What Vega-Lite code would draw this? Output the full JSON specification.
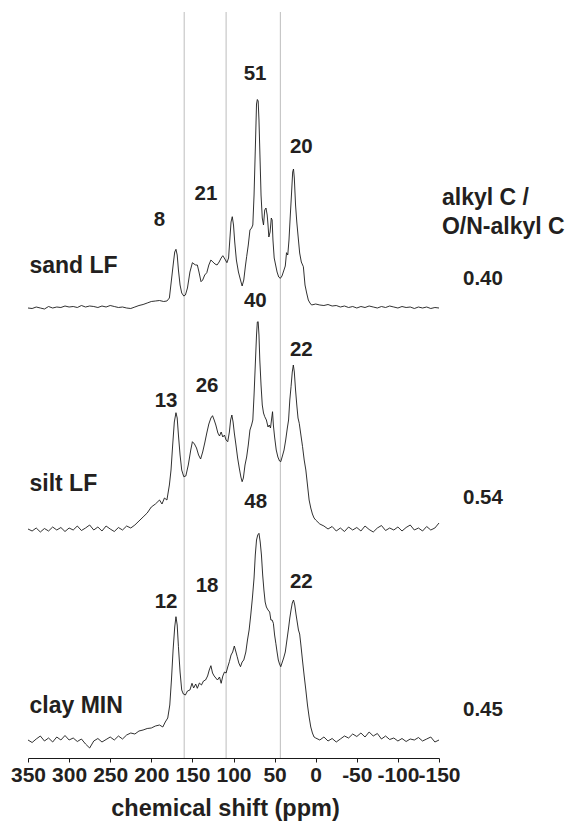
{
  "$schema": "https://vega.github.io/schema/vega-lite/v6.json",
  "autosize": {"type": "none"},
  "width": 411,
  "height": 746,
  "padding": {"left": 28, "top": 12, "right": 129, "bottom": 64},
  "config": {"view": {"stroke": null}, "font": "Liberation Sans"},
  "datasets": {
    "spectra": [
      {"s":"sand","x":350,"y":449},{"s":"sand","x":345,"y":448.5},{"s":"sand","x":340,"y":450},{"s":"sand","x":335,"y":449},{"s":"sand","x":330,"y":448},{"s":"sand","x":325,"y":450.5},{"s":"sand","x":320,"y":449},{"s":"sand","x":315,"y":450},{"s":"sand","x":310,"y":449.5},{"s":"sand","x":305,"y":451},{"s":"sand","x":300,"y":450},{"s":"sand","x":295,"y":450.5},{"s":"sand","x":290,"y":449.5},{"s":"sand","x":285,"y":451.5},{"s":"sand","x":280,"y":450},{"s":"sand","x":275,"y":451},{"s":"sand","x":270,"y":450.5},{"s":"sand","x":265,"y":449.5},{"s":"sand","x":260,"y":451},{"s":"sand","x":255,"y":450},{"s":"sand","x":250,"y":451.5},{"s":"sand","x":245,"y":450.5},{"s":"sand","x":240,"y":449.5},{"s":"sand","x":235,"y":450},{"s":"sand","x":230,"y":449},{"s":"sand","x":225,"y":448.5},{"s":"sand","x":220,"y":450},{"s":"sand","x":215,"y":451.5},{"s":"sand","x":210,"y":452.5},{"s":"sand","x":205,"y":454},{"s":"sand","x":200,"y":455.5},{"s":"sand","x":195,"y":456},{"s":"sand","x":190,"y":456.5},{"s":"sand","x":185,"y":455.5},{"s":"sand","x":181,"y":456},
      {"s":"sand","x":178,"y":459},{"s":"sand","x":175.5,"y":477},{"s":"sand","x":173,"y":495},{"s":"sand","x":171.5,"y":505},{"s":"sand","x":170,"y":507.7},{"s":"sand","x":168.5,"y":502},{"s":"sand","x":167,"y":487},{"s":"sand","x":165,"y":472},{"s":"sand","x":163,"y":464},{"s":"sand","x":160.5,"y":461},{"s":"sand","x":158.5,"y":462},{"s":"sand","x":156,"y":469},{"s":"sand","x":153,"y":485},{"s":"sand","x":150,"y":494.3},{"s":"sand","x":148,"y":493},{"s":"sand","x":146,"y":492},{"s":"sand","x":144,"y":492},{"s":"sand","x":142,"y":485},{"s":"sand","x":139.5,"y":475.3},{"s":"sand","x":137.5,"y":477},{"s":"sand","x":135,"y":482},{"s":"sand","x":132.5,"y":484.3},{"s":"sand","x":130,"y":492},{"s":"sand","x":127.5,"y":497},{"s":"sand","x":125,"y":495},{"s":"sand","x":122.5,"y":493},{"s":"sand","x":120,"y":492},{"s":"sand","x":117.5,"y":495},{"s":"sand","x":115,"y":499},{"s":"sand","x":113,"y":501.3},{"s":"sand","x":110.5,"y":498},{"s":"sand","x":108,"y":494.3},{"s":"sand","x":106,"y":499},{"s":"sand","x":104.5,"y":517},{"s":"sand","x":103,"y":535},{"s":"sand","x":101.5,"y":540.3},{"s":"sand","x":100,"y":532},{"s":"sand","x":98.5,"y":515},{"s":"sand","x":96.5,"y":497},{"s":"sand","x":94,"y":485},{"s":"sand","x":91.5,"y":477},{"s":"sand","x":89.5,"y":471},{"s":"sand","x":87.5,"y":477},{"s":"sand","x":85.5,"y":491},{"s":"sand","x":84,"y":500.3},{"s":"sand","x":82,"y":512},{"s":"sand","x":80,"y":527},{"s":"sand","x":78,"y":529},{"s":"sand","x":76.5,"y":532},{"s":"sand","x":75,"y":562},{"s":"sand","x":73.5,"y":607},{"s":"sand","x":72,"y":653},{"s":"sand","x":71,"y":657.5},{"s":"sand","x":70,"y":656},{"s":"sand","x":69,"y":637},{"s":"sand","x":68,"y":607},{"s":"sand","x":66.5,"y":562},{"s":"sand","x":65,"y":539},{"s":"sand","x":63.5,"y":532},{"s":"sand","x":62,"y":547},{"s":"sand","x":60.5,"y":549},{"s":"sand","x":59,"y":542},{"s":"sand","x":58,"y":532},{"s":"sand","x":57,"y":520},{"s":"sand","x":55.5,"y":525},{"s":"sand","x":54,"y":539},{"s":"sand","x":53,"y":537},{"s":"sand","x":52,"y":517},{"s":"sand","x":50.5,"y":499},{"s":"sand","x":49,"y":493},{"s":"sand","x":47,"y":485},{"s":"sand","x":45,"y":480},{"s":"sand","x":43,"y":478.7},{"s":"sand","x":41,"y":481},{"s":"sand","x":39,"y":486},{"s":"sand","x":37,"y":491},{"s":"sand","x":35.5,"y":504.3},{"s":"sand","x":34,"y":502},{"s":"sand","x":32.5,"y":517},{"s":"sand","x":31,"y":540},{"s":"sand","x":29.5,"y":562},{"s":"sand","x":28,"y":585},{"s":"sand","x":27,"y":588},{"s":"sand","x":26,"y":579},{"s":"sand","x":24.5,"y":552},{"s":"sand","x":23,"y":535},{"s":"sand","x":21,"y":517},{"s":"sand","x":19.5,"y":504},{"s":"sand","x":17.5,"y":495},{"s":"sand","x":15,"y":490.3},{"s":"sand","x":13,"y":472},{"s":"sand","x":11,"y":464},{"s":"sand","x":9,"y":457},{"s":"sand","x":7,"y":454},{"s":"sand","x":5,"y":452},
      {"s":"sand","x":0,"y":453},{"s":"sand","x":-5,"y":452},{"s":"sand","x":-10,"y":451.5},{"s":"sand","x":-15,"y":452.5},{"s":"sand","x":-20,"y":451},{"s":"sand","x":-25,"y":451.5},{"s":"sand","x":-30,"y":450},{"s":"sand","x":-35,"y":451},{"s":"sand","x":-40,"y":449.5},{"s":"sand","x":-45,"y":450.5},{"s":"sand","x":-50,"y":449},{"s":"sand","x":-55,"y":450.5},{"s":"sand","x":-60,"y":449.5},{"s":"sand","x":-65,"y":451},{"s":"sand","x":-70,"y":450},{"s":"sand","x":-75,"y":449},{"s":"sand","x":-80,"y":450.5},{"s":"sand","x":-85,"y":449.5},{"s":"sand","x":-90,"y":451},{"s":"sand","x":-95,"y":450},{"s":"sand","x":-100,"y":449},{"s":"sand","x":-105,"y":450.5},{"s":"sand","x":-110,"y":449.5},{"s":"sand","x":-115,"y":450},{"s":"sand","x":-120,"y":448.5},{"s":"sand","x":-125,"y":450},{"s":"sand","x":-130,"y":449},{"s":"sand","x":-135,"y":450},{"s":"sand","x":-140,"y":448.5},{"s":"sand","x":-145,"y":449.5},{"s":"sand","x":-150,"y":449},

      {"s":"silt","x":350,"y":228},{"s":"silt","x":345,"y":226},{"s":"silt","x":340,"y":229},{"s":"silt","x":335,"y":225},{"s":"silt","x":330,"y":228.5},{"s":"silt","x":325,"y":226},{"s":"silt","x":320,"y":230},{"s":"silt","x":315,"y":227},{"s":"silt","x":310,"y":229.5},{"s":"silt","x":305,"y":225.5},{"s":"silt","x":300,"y":229},{"s":"silt","x":295,"y":227},{"s":"silt","x":290,"y":231},{"s":"silt","x":285,"y":226.5},{"s":"silt","x":280,"y":229},{"s":"silt","x":275,"y":232},{"s":"silt","x":270,"y":227},{"s":"silt","x":265,"y":230},{"s":"silt","x":260,"y":226},{"s":"silt","x":255,"y":231},{"s":"silt","x":250,"y":228},{"s":"silt","x":245,"y":225.5},{"s":"silt","x":240,"y":229.5},{"s":"silt","x":235,"y":227},{"s":"silt","x":230,"y":231},{"s":"silt","x":225,"y":229},{"s":"silt","x":220,"y":232},{"s":"silt","x":215,"y":236},{"s":"silt","x":210,"y":240},{"s":"silt","x":205,"y":244},{"s":"silt","x":200,"y":250},{"s":"silt","x":195,"y":253},{"s":"silt","x":190,"y":257},{"s":"silt","x":187,"y":253},{"s":"silt","x":184,"y":259},{"s":"silt","x":181,"y":257},
      {"s":"silt","x":178,"y":272},{"s":"silt","x":176,"y":287},{"s":"silt","x":174,"y":312},{"s":"silt","x":172,"y":335},{"s":"silt","x":170,"y":344.3},{"s":"silt","x":168.5,"y":339},{"s":"silt","x":167,"y":322},{"s":"silt","x":165,"y":302},{"s":"silt","x":163,"y":287},{"s":"silt","x":160.5,"y":280.3},{"s":"silt","x":158,"y":281},{"s":"silt","x":155,"y":292},{"s":"silt","x":152,"y":307},{"s":"silt","x":150,"y":315.3},{"s":"silt","x":147.5,"y":313},{"s":"silt","x":145,"y":309},{"s":"silt","x":142.5,"y":302},{"s":"silt","x":140,"y":298},{"s":"silt","x":137.5,"y":305},{"s":"silt","x":135,"y":314},{"s":"silt","x":132.5,"y":324},{"s":"silt","x":130,"y":333},{"s":"silt","x":127.5,"y":339},{"s":"silt","x":125.5,"y":341.3},{"s":"silt","x":123.5,"y":337},{"s":"silt","x":121.5,"y":332},{"s":"silt","x":119,"y":324},{"s":"silt","x":117,"y":321},{"s":"silt","x":115,"y":325},{"s":"silt","x":113,"y":320},{"s":"silt","x":111,"y":322},{"s":"silt","x":109,"y":317},{"s":"silt","x":107,"y":315.3},{"s":"silt","x":105,"y":325},{"s":"silt","x":103.5,"y":337},{"s":"silt","x":102,"y":342},{"s":"silt","x":100.5,"y":335},{"s":"silt","x":99,"y":324},{"s":"silt","x":97,"y":312},{"s":"silt","x":95,"y":299},{"s":"silt","x":93,"y":289},{"s":"silt","x":91,"y":280},{"s":"silt","x":89.5,"y":275.3},{"s":"silt","x":88,"y":279},{"s":"silt","x":86,"y":292},{"s":"silt","x":84,"y":300},{"s":"silt","x":82,"y":312},{"s":"silt","x":80,"y":327},{"s":"silt","x":78,"y":332},{"s":"silt","x":76.5,"y":337},{"s":"silt","x":75,"y":362},{"s":"silt","x":73.5,"y":392},{"s":"silt","x":72,"y":422},{"s":"silt","x":71,"y":435},{"s":"silt","x":70,"y":435.3},{"s":"silt","x":69,"y":422},{"s":"silt","x":68,"y":397},{"s":"silt","x":66.5,"y":372},{"s":"silt","x":65,"y":352},{"s":"silt","x":63.5,"y":344},{"s":"silt","x":62,"y":340.3},{"s":"silt","x":60,"y":337},{"s":"silt","x":58,"y":330},{"s":"silt","x":56.5,"y":332},{"s":"silt","x":55,"y":329},{"s":"silt","x":53.5,"y":339},{"s":"silt","x":52.5,"y":345.3},{"s":"silt","x":51.5,"y":332},{"s":"silt","x":50,"y":320},{"s":"silt","x":48,"y":307},{"s":"silt","x":46,"y":300},{"s":"silt","x":44,"y":296},{"s":"silt","x":42.5,"y":295.3},{"s":"silt","x":40.5,"y":301},{"s":"silt","x":38.5,"y":307},{"s":"silt","x":36.5,"y":317},{"s":"silt","x":34.5,"y":329},{"s":"silt","x":33,"y":337},{"s":"silt","x":31.5,"y":357},{"s":"silt","x":30,"y":370.3},{"s":"silt","x":28.5,"y":385},{"s":"silt","x":27.2,"y":392},{"s":"silt","x":26,"y":385},{"s":"silt","x":24.5,"y":367},{"s":"silt","x":23,"y":352},{"s":"silt","x":21.5,"y":339},{"s":"silt","x":20,"y":333.7},{"s":"silt","x":18,"y":322},{"s":"silt","x":16,"y":310.3},{"s":"silt","x":14,"y":297},{"s":"silt","x":12,"y":287},{"s":"silt","x":10,"y":272},{"s":"silt","x":8,"y":257},{"s":"silt","x":6,"y":249},{"s":"silt","x":4,"y":243},{"s":"silt","x":2,"y":239},{"s":"silt","x":0,"y":237},{"s":"silt","x":-5,"y":233},
      {"s":"silt","x":-10,"y":231},{"s":"silt","x":-15,"y":228},{"s":"silt","x":-20,"y":230.5},{"s":"silt","x":-25,"y":226},{"s":"silt","x":-30,"y":229},{"s":"silt","x":-35,"y":225.5},{"s":"silt","x":-40,"y":230},{"s":"silt","x":-45,"y":227},{"s":"silt","x":-50,"y":229.5},{"s":"silt","x":-55,"y":226},{"s":"silt","x":-60,"y":231},{"s":"silt","x":-65,"y":227.5},{"s":"silt","x":-70,"y":225},{"s":"silt","x":-75,"y":229},{"s":"silt","x":-80,"y":231.5},{"s":"silt","x":-85,"y":226.5},{"s":"silt","x":-90,"y":229},{"s":"silt","x":-95,"y":227},{"s":"silt","x":-100,"y":230},{"s":"silt","x":-105,"y":226},{"s":"silt","x":-110,"y":229.5},{"s":"silt","x":-115,"y":232},{"s":"silt","x":-120,"y":227},{"s":"silt","x":-125,"y":229},{"s":"silt","x":-130,"y":226},{"s":"silt","x":-135,"y":230.5},{"s":"silt","x":-140,"y":227},{"s":"silt","x":-145,"y":229},{"s":"silt","x":-150,"y":234},

      {"s":"clay","x":350,"y":17},{"s":"clay","x":345,"y":14.5},{"s":"clay","x":340,"y":18},{"s":"clay","x":335,"y":21},{"s":"clay","x":330,"y":16},{"s":"clay","x":325,"y":19},{"s":"clay","x":320,"y":15},{"s":"clay","x":315,"y":20},{"s":"clay","x":310,"y":17},{"s":"clay","x":305,"y":21.5},{"s":"clay","x":300,"y":17},{"s":"clay","x":295,"y":19},{"s":"clay","x":290,"y":15.5},{"s":"clay","x":285,"y":18},{"s":"clay","x":280,"y":13},{"s":"clay","x":275,"y":9},{"s":"clay","x":270,"y":16},{"s":"clay","x":265,"y":18.5},{"s":"clay","x":260,"y":15},{"s":"clay","x":255,"y":17.5},{"s":"clay","x":250,"y":20},{"s":"clay","x":245,"y":17},{"s":"clay","x":240,"y":21},{"s":"clay","x":235,"y":18},{"s":"clay","x":230,"y":22},{"s":"clay","x":225,"y":24},{"s":"clay","x":220,"y":23},{"s":"clay","x":215,"y":26},{"s":"clay","x":210,"y":27},{"s":"clay","x":205,"y":28.5},{"s":"clay","x":200,"y":29},{"s":"clay","x":195,"y":31},{"s":"clay","x":190,"y":32},{"s":"clay","x":186,"y":30},{"s":"clay","x":183,"y":35},{"s":"clay","x":180,"y":39},
      {"s":"clay","x":177.5,"y":52},{"s":"clay","x":175.5,"y":77},{"s":"clay","x":173.5,"y":107},{"s":"clay","x":171.5,"y":130},{"s":"clay","x":170,"y":140.3},{"s":"clay","x":168.5,"y":132},{"s":"clay","x":167,"y":110.3},{"s":"clay","x":165,"y":85},{"s":"clay","x":163,"y":67},{"s":"clay","x":161,"y":63},{"s":"clay","x":158.5,"y":62},{"s":"clay","x":156,"y":66},{"s":"clay","x":153,"y":67},{"s":"clay","x":150.5,"y":73.7},{"s":"clay","x":148.5,"y":69},{"s":"clay","x":146,"y":73},{"s":"clay","x":144,"y":68.7},{"s":"clay","x":141.5,"y":74},{"s":"clay","x":139,"y":72},{"s":"clay","x":136.5,"y":76},{"s":"clay","x":134,"y":77},{"s":"clay","x":131.5,"y":81},{"s":"clay","x":129.5,"y":87},{"s":"clay","x":127.5,"y":91.3},{"s":"clay","x":125.5,"y":84},{"s":"clay","x":123.5,"y":81},{"s":"clay","x":121.5,"y":79},{"s":"clay","x":119.5,"y":77},{"s":"clay","x":117,"y":80},{"s":"clay","x":115,"y":73.7},{"s":"clay","x":113,"y":81},{"s":"clay","x":111,"y":85},{"s":"clay","x":109,"y":84},{"s":"clay","x":107,"y":90},{"s":"clay","x":105,"y":95.3},{"s":"clay","x":103,"y":102},{"s":"clay","x":101,"y":105},{"s":"clay","x":99,"y":111},{"s":"clay","x":97,"y":105},{"s":"clay","x":95.5,"y":100.3},{"s":"clay","x":93.5,"y":94},{"s":"clay","x":91.5,"y":90.3},{"s":"clay","x":89.5,"y":95},{"s":"clay","x":87.5,"y":97},{"s":"clay","x":85,"y":105},{"s":"clay","x":83,"y":117},{"s":"clay","x":81,"y":127},{"s":"clay","x":79,"y":142},{"s":"clay","x":77,"y":159},{"s":"clay","x":75,"y":179},{"s":"clay","x":73.5,"y":202},{"s":"clay","x":72,"y":217},{"s":"clay","x":70.5,"y":222},{"s":"clay","x":69,"y":223.7},{"s":"clay","x":67.5,"y":215},{"s":"clay","x":66,"y":202},{"s":"clay","x":64.5,"y":182},{"s":"clay","x":63,"y":167},{"s":"clay","x":61.5,"y":155},{"s":"clay","x":60,"y":150},{"s":"clay","x":58,"y":147},{"s":"clay","x":56,"y":145},{"s":"clay","x":54.5,"y":137},{"s":"clay","x":53,"y":137},{"s":"clay","x":51.5,"y":133.7},{"s":"clay","x":50,"y":122},{"s":"clay","x":48.5,"y":113.7},{"s":"clay","x":47,"y":105},{"s":"clay","x":45.5,"y":97},{"s":"clay","x":44,"y":93},{"s":"clay","x":42.5,"y":90.3},{"s":"clay","x":41,"y":94},{"s":"clay","x":39,"y":99},{"s":"clay","x":37,"y":105},{"s":"clay","x":35,"y":117},{"s":"clay","x":33,"y":129},{"s":"clay","x":31.5,"y":139},{"s":"clay","x":30,"y":147},{"s":"clay","x":28.5,"y":154},{"s":"clay","x":27,"y":157},{"s":"clay","x":25.5,"y":152},{"s":"clay","x":24,"y":143},{"s":"clay","x":22.5,"y":135},{"s":"clay","x":21,"y":127},{"s":"clay","x":19.5,"y":123},{"s":"clay","x":18,"y":112},{"s":"clay","x":16,"y":96},{"s":"clay","x":14,"y":81},{"s":"clay","x":12,"y":67},{"s":"clay","x":10,"y":52},{"s":"clay","x":8,"y":40},{"s":"clay","x":6,"y":30},{"s":"clay","x":4,"y":24},{"s":"clay","x":2,"y":20},{"s":"clay","x":0,"y":19},
      {"s":"clay","x":-5,"y":17},{"s":"clay","x":-10,"y":20},{"s":"clay","x":-15,"y":16},{"s":"clay","x":-20,"y":18.5},{"s":"clay","x":-25,"y":15},{"s":"clay","x":-30,"y":18},{"s":"clay","x":-35,"y":21},{"s":"clay","x":-40,"y":19},{"s":"clay","x":-45,"y":23},{"s":"clay","x":-50,"y":20.5},{"s":"clay","x":-55,"y":24},{"s":"clay","x":-60,"y":20},{"s":"clay","x":-65,"y":25},{"s":"clay","x":-70,"y":21},{"s":"clay","x":-75,"y":23.5},{"s":"clay","x":-80,"y":18},{"s":"clay","x":-85,"y":21},{"s":"clay","x":-90,"y":17.5},{"s":"clay","x":-95,"y":19},{"s":"clay","x":-100,"y":16},{"s":"clay","x":-105,"y":18.5},{"s":"clay","x":-110,"y":15.5},{"s":"clay","x":-115,"y":18},{"s":"clay","x":-120,"y":17},{"s":"clay","x":-125,"y":19.5},{"s":"clay","x":-130,"y":16},{"s":"clay","x":-135,"y":18},{"s":"clay","x":-140,"y":20},{"s":"clay","x":-145,"y":15},{"s":"clay","x":-150,"y":17}
    ],
    "bounds": [{"x": 160}, {"x": 109}, {"x": 43}],
    "samples": [
      {"t": "sand LF", "x": 348.2, "y": 483.7},
      {"t": "silt LF", "x": 348.2, "y": 266.3},
      {"t": "clay MIN", "x": 348.2, "y": 43.7}
    ],
    "peaks": [
      {"t": "8", "x": 190, "y": 531},
      {"t": "21", "x": 133.5, "y": 557},
      {"t": "51", "x": 73.8, "y": 677},
      {"t": "20", "x": 17.5, "y": 604},
      {"t": "40", "x": 73.5, "y": 450.3},
      {"t": "13", "x": 182, "y": 350.3},
      {"t": "26", "x": 132.2, "y": 365.3},
      {"t": "22", "x": 17.5, "y": 401.3},
      {"t": "48", "x": 72.9, "y": 249.3},
      {"t": "12", "x": 182, "y": 148.7},
      {"t": "18", "x": 132.2, "y": 164.7},
      {"t": "22", "x": 17.5, "y": 169}
    ],
    "header": [
      {"t": "alkyl C /", "x": -153.6, "y": 552},
      {"t": "O/N-alkyl C", "x": -153.6, "y": 523}
    ],
    "ratios": [
      {"t": "0.40", "x": -179.2, "y": 472},
      {"t": "0.54", "x": -179.2, "y": 252.6},
      {"t": "0.45", "x": -179.2, "y": 41}
    ]
  },
  "layer": [
    {
      "data": {"name": "bounds"},
      "mark": {"type": "rule", "color": "#bdbdbd", "strokeWidth": 1},
      "encoding": {
        "x": {"field": "x", "type": "quantitative", "scale": {"domain": [350, -150], "nice": false}}
      }
    },
    {
      "data": {"name": "spectra"},
      "mark": {"type": "line", "color": "#1a1a1a", "strokeWidth": 0.9, "clip": false},
      "encoding": {
        "x": {
          "field": "x", "type": "quantitative",
          "scale": {"domain": [350, -150], "nice": false},
          "axis": {
            "values": [350, 300, 250, 200, 150, 100, 50, 0, -50, -100, -150],
            "labelExpr": "'' + datum.value",
            "grid": false,
            "domainColor": "#1a1a1a", "domainWidth": 1,
            "tickColor": "#1a1a1a", "tickSize": 4, "tickWidth": 1,
            "labelFont": "Liberation Sans", "labelFontSize": 21, "labelFontWeight": "bold", "labelColor": "#231f20",
            "labelBaseline": "alphabetic", "labelPadding": 19,
            "labelOverlap": false, "labelFlush": false, "labelBound": false,
            "title": "chemical shift (ppm)",
            "titleFont": "Liberation Sans", "titleFontSize": 23.5, "titleFontWeight": "bold", "titleColor": "#231f20",
            "titleBaseline": "alphabetic", "titleAlign": "center", "titleX": 197, "titleY": 57
          }
        },
        "y": {"field": "y", "type": "quantitative", "scale": {"domain": [-1, 745], "nice": false, "zero": false}, "axis": null},
        "detail": {"field": "s"}
      }
    },
    {
      "data": {"name": "samples"},
      "mark": {"type": "text", "align": "left", "baseline": "alphabetic", "font": "Liberation Sans", "fontSize": 23, "fontWeight": "bold", "color": "#231f20"},
      "encoding": {
        "x": {"field": "x", "type": "quantitative"},
        "y": {"field": "y", "type": "quantitative"},
        "text": {"field": "t"}
      }
    },
    {
      "data": {"name": "peaks"},
      "mark": {"type": "text", "align": "center", "baseline": "alphabetic", "font": "Liberation Sans", "fontSize": 20.5, "fontWeight": "bold", "color": "#231f20"},
      "encoding": {
        "x": {"field": "x", "type": "quantitative"},
        "y": {"field": "y", "type": "quantitative"},
        "text": {"field": "t"}
      }
    },
    {
      "data": {"name": "header"},
      "mark": {"type": "text", "align": "left", "baseline": "alphabetic", "font": "Liberation Sans", "fontSize": 23, "fontWeight": "bold", "color": "#231f20"},
      "encoding": {
        "x": {"field": "x", "type": "quantitative"},
        "y": {"field": "y", "type": "quantitative"},
        "text": {"field": "t"}
      }
    },
    {
      "data": {"name": "ratios"},
      "mark": {"type": "text", "align": "left", "baseline": "alphabetic", "font": "Liberation Sans", "fontSize": 20.5, "fontWeight": "bold", "color": "#231f20"},
      "encoding": {
        "x": {"field": "x", "type": "quantitative"},
        "y": {"field": "y", "type": "quantitative"},
        "text": {"field": "t"}
      }
    }
  ]
}
